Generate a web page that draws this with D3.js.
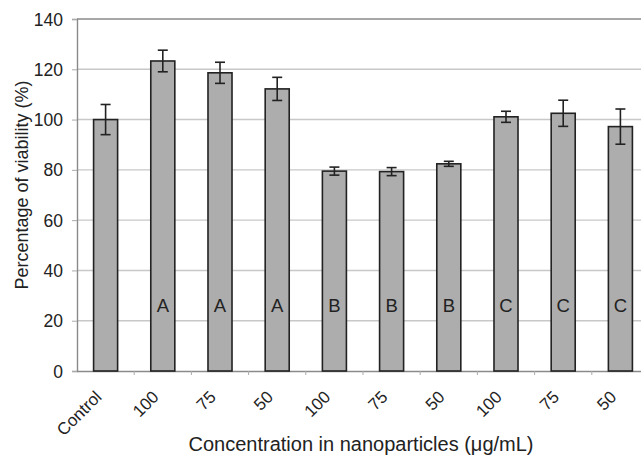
<!DOCTYPE html>
<html><head><meta charset="utf-8">
<script src="https://cdn.jsdelivr.net/npm/d3@7"></script>
<style>body{margin:0;background:#fff}svg{display:block}text{font-family:"Liberation Sans",Arial,sans-serif}</style>
</head><body>
<svg id="c" width="641" height="455"></svg>
<script>
const categories = ["Control","100","75","50","100","75","50","100","75","50"];
const values = [100, 123.3, 118.6, 112.2, 79.5, 79.3, 82.4, 101.1, 102.5, 97.2];
const errors = [6, 4.3, 4.2, 4.6, 1.6, 1.6, 1.0, 2.2, 5.2, 7.0];
const groupLetters = ["", "A", "A", "A", "B", "B", "B", "C", "C", "C"];
const yTicks = [0, 20, 40, 60, 80, 100, 120, 140];
const letterLevel = 26;

const svg = d3.select("#c");
const m = {l:77, r:649, t:19, b:371};
const x = d3.scaleBand().domain(d3.range(categories.length)).range([m.l, m.r]).paddingInner(0.58).paddingOuter(0.29);
const xb = d3.scaleBand().domain(d3.range(categories.length)).range([m.l, m.r]);
const y = d3.scaleLinear().domain([0,140]).range([m.b, m.t]);

// grid
svg.append("g").selectAll("line").data(yTicks.filter(d=>d>0 && d<140)).join("line")
  .attr("x1", m.l).attr("x2", m.r).attr("y1", d=>y(d)).attr("y2", d=>y(d))
  .attr("stroke", "#c8c8c8").attr("stroke-width", 1.4);
svg.append("line").attr("x1", m.l).attr("x2", m.r).attr("y1", y(140)).attr("y2", y(140))
  .attr("stroke", "#8a8a8a").attr("stroke-width", 1.4);

// y axis
const ya = svg.append("g").attr("transform", `translate(${m.l},0)`)
  .call(d3.axisLeft(y).tickValues(yTicks).tickSize(5).tickPadding(9));
ya.select(".domain").attr("stroke", "#8a8a8a").attr("stroke-width", 1.4);
ya.selectAll(".tick line").attr("stroke", "#aaa");
ya.selectAll("text").attr("font-size", 17.5).attr("fill", "#222").attr("dy", "0.35em");

// x axis
const xa = svg.append("g").attr("transform", `translate(0,${m.b})`)
  .call(d3.axisBottom(xb).tickSize(0).tickFormat(""));
xa.select(".domain").attr("stroke", "#8a8a8a").attr("stroke-width", 1.4);
svg.append("g").selectAll("line").data(d3.range(1, categories.length)).join("line")
  .attr("x1", d=>xb(d)).attr("x2", d=>xb(d)).attr("y1", m.b).attr("y2", m.b+4)
  .attr("stroke", "#aaa");

// x labels
svg.append("g").selectAll("text").data(categories).join("text")
  .attr("transform", (d,i)=>`translate(${xb(i)+xb.bandwidth()/2-3},${m.b+27}) rotate(-45)`)
  .attr("text-anchor", "end").attr("font-size", 17).attr("fill", "#222")
  .text(d=>d);

// bars
svg.append("g").selectAll("rect").data(values).join("rect")
  .attr("x", (d,i)=>x(i)).attr("width", x.bandwidth())
  .attr("y", d=>y(d)).attr("height", d=>y(0)-y(d))
  .attr("fill", "#adadad").attr("stroke", "#222").attr("stroke-width", 1.6);

// error bars
const eg = svg.append("g").attr("stroke", "#222").attr("stroke-width", 1.6);
values.forEach((v,i)=>{
  const cx = x(i)+x.bandwidth()/2, e = errors[i];
  eg.append("line").attr("x1",cx).attr("x2",cx).attr("y1",y(v+e)).attr("y2",y(v-e));
  eg.append("line").attr("x1",cx-5).attr("x2",cx+5).attr("y1",y(v+e)).attr("y2",y(v+e));
  eg.append("line").attr("x1",cx-5).attr("x2",cx+5).attr("y1",y(v-e)).attr("y2",y(v-e));
});

// letters
svg.append("g").selectAll("text").data(groupLetters).join("text")
  .attr("x", (d,i)=>x(i)+x.bandwidth()/2).attr("y", y(letterLevel)).attr("dy","0.35em")
  .attr("text-anchor","middle").attr("font-size",18.5).attr("fill","#222").text(d=>d);

// titles
svg.append("text").attr("transform", `translate(28,185) rotate(-90)`)
  .attr("text-anchor","middle").attr("font-size",18).attr("fill","#222")
  .text("Percentage of viability (%)");
svg.append("text").attr("x", 361).attr("y", 451).attr("text-anchor","middle")
  .attr("font-size",20).attr("fill","#222")
  .text("Concentration in nanoparticles (μg/mL)");
</script>
</body></html>
